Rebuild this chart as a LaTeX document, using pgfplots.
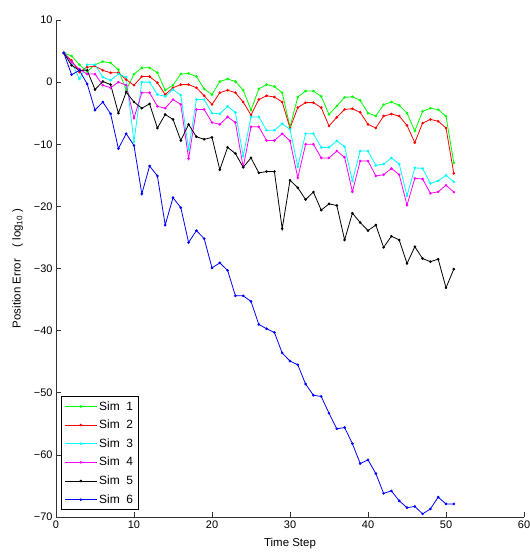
\documentclass[border=0pt]{standalone}
\usepackage{fontspec}
\setmainfont{Liberation Sans}
\usepackage{pgfplots}
\usepackage{pgfplotstable}
\pgfplotsset{compat=1.18}
\definecolor{mgreen}{rgb}{0,1,0}
\definecolor{mred}{rgb}{1,0,0}
\definecolor{mcyan}{rgb}{0,1,1}
\definecolor{mmagenta}{rgb}{1,0,1}
\definecolor{mblue}{rgb}{0,0,1}
\pgfplotstableread{
x s1 s2 s3 s4 s5 s6
1 4.7 4.7 4.7 4.7 4.7 4.7
2 4.2 3.5 3.2 3.2 2.7 1.2
3 2.8 1.6 0.5 2.1 1.9 1.9
4 1.7 2.4 2.8 1.3 1.9 -0.3
5 2.8 2.6 2.8 1.3 -1.2 -4.5
6 3.3 1.9 0.8 -0.5 0.1 -3.2
7 3.1 1.5 0.3 -0.9 -0.4 -5.1
8 2.0 1.5 1.3 0.0 -5.0 -10.7
9 -1.3 0.4 0.8 -0.5 -1.6 -8.3
10 1.3 -0.5 -9.6 -5.8 -3.2 -10.2
11 2.3 0.9 0.0 -1.7 -4.2 -18.0
12 2.3 0.9 0.0 -1.7 -3.5 -13.5
13 1.5 -0.1 -2.0 -3.9 -7.4 -15.1
14 -1.3 -2.0 -2.3 -4.2 -5.2 -23.0
15 -0.5 -0.9 -1.2 -2.8 -6.0 -18.6
16 1.3 -0.4 -2.1 -3.6 -9.4 -20.2
17 1.4 -0.4 -10.8 -12.3 -6.8 -25.8
18 0.9 -0.9 -2.8 -4.4 -8.8 -23.9
19 -1.1 -2.2 -2.8 -4.4 -9.2 -25.2
20 -2.0 -3.6 -5.0 -6.5 -8.9 -29.9
21 0.1 -1.7 -5.1 -6.8 -14.1 -29.1
22 0.5 -1.3 -3.9 -5.6 -10.5 -30.3
23 0.1 -1.7 -4.9 -6.5 -11.5 -34.4
24 -1.3 -3.2 -11.9 -13.7 -13.7 -34.4
25 -4.5 -5.3 -5.6 -7.2 -12.2 -35.3
26 -1.1 -2.8 -5.6 -7.2 -14.6 -39.0
27 -0.4 -2.2 -7.75 -9.4 -14.4 -39.7
28 -0.7 -2.4 -7.75 -9.4 -14.4 -40.3
29 -1.7 -3.2 -6.7 -8.3 -23.6 -43.6
30 -7.2 -7.4 -7.6 -9.45 -15.8 -44.9
31 -2.4 -4.1 -13.6 -15.4 -17.0 -45.5
32 -1.44 -3.3 -8.3 -10.0 -18.9 -48.6
33 -1.44 -3.3 -8.3 -10.0 -17.7 -50.4
34 -2.3 -4.1 -10.5 -12.2 -20.6 -50.6
35 -5.2 -7.06 -10.5 -12.2 -19.6 -53.3
36 -3.85 -5.67 -9.47 -11.1 -19.85 -55.8
37 -2.46 -4.39 -10.4 -12.1 -25.4 -55.6
38 -2.35 -4.28 -15.9 -17.65 -21.1 -58.2
39 -2.94 -4.87 -11.1 -12.7 -22.6 -61.4
40 -4.98 -6.8 -11.1 -12.7 -23.9 -60.8
41 -5.46 -7.38 -13.4 -15.1 -23.0 -63.0
42 -3.64 -5.46 -13.2 -14.9 -26.6 -66.2
43 -3.2 -5.14 -12.2 -13.9 -24.8 -65.8
44 -3.74 -5.46 -13.2 -14.9 -25.4 -67.4
45 -4.98 -6.97 -18.3 -19.8 -29.2 -68.5
46 -7.87 -9.74 -13.8 -15.5 -26.5 -68.3
47 -4.7 -6.6 -13.9 -15.6 -28.4 -69.5
48 -4.2 -6.0 -16.3 -17.9 -28.9 -68.7
49 -4.44 -6.3 -15.9 -17.65 -28.5 -66.8
50 -5.5 -7.38 -15.0 -16.6 -33.1 -67.9
51 -13.0 -14.7 -16.05 -17.7 -30.1 -67.9
}\data
\begin{document}
\begin{tikzpicture}
\begin{axis}[name=ax, scale only axis, width=468bp, height=497bp,
  xmin=0, xmax=60, ymin=-70, ymax=10,
  axis x line*=bottom, axis y line*=left,
  axis line style={line width=0.9pt, color=black!80},
  tick align=inside, major tick length=5bp,
  tick style={line width=0.6pt, color=black!80},
  xtick={0,10,...,60}, ytick={-70,-60,...,10},
  xticklabels={0,10,20,30,40,50,60},
  yticklabels={−70,−60,−50,−40,−30,−20,−10,0,10},
  ticklabel style={font=\fontsize{11}{13}\selectfont},
  label style={font=\fontsize{11.5}{13}\selectfont},
  xlabel={Time Step}, ylabel={Position Error\quad(\ log\textsubscript{10}\ )},
  xlabel style={yshift=-3bp},
  ylabel style={yshift=4bp},
  every axis plot/.append style={line width=0.8pt, mark=*, mark size=0.9pt},
  legend image code/.code={\draw[mark repeat=2,mark phase=2] plot coordinates {(0bp,0bp)(16bp,0bp)(32bp,0bp)};},
  legend cell align=left,
  legend style={at={(0.011,0.014)}, anchor=south west, draw=black, line width=0.6pt,
    font=\fontsize{12}{14}\selectfont, row sep=4.5bp, inner sep=3bp},
]
\addplot[mgreen] table[x=x,y=s1] {\data};
\addplot[mred] table[x=x,y=s2] {\data};
\addplot[mcyan] table[x=x,y=s3] {\data};
\addplot[mmagenta] table[x=x,y=s4] {\data};
\addplot[black] table[x=x,y=s5] {\data};
\addplot[mblue] table[x=x,y=s6] {\data};
\legend{Sim\ \ 1,Sim\ \ 2,Sim\ \ 3,Sim\ \ 4,Sim\ \ 5,Sim\ \ 6}
\end{axis}
\pgfresetboundingbox
\path[use as bounding box] ([xshift=-56bp,yshift=-38bp]ax.south west) rectangle ([xshift=6bp,yshift=20bp]ax.north east);
\end{tikzpicture}
\end{document}
